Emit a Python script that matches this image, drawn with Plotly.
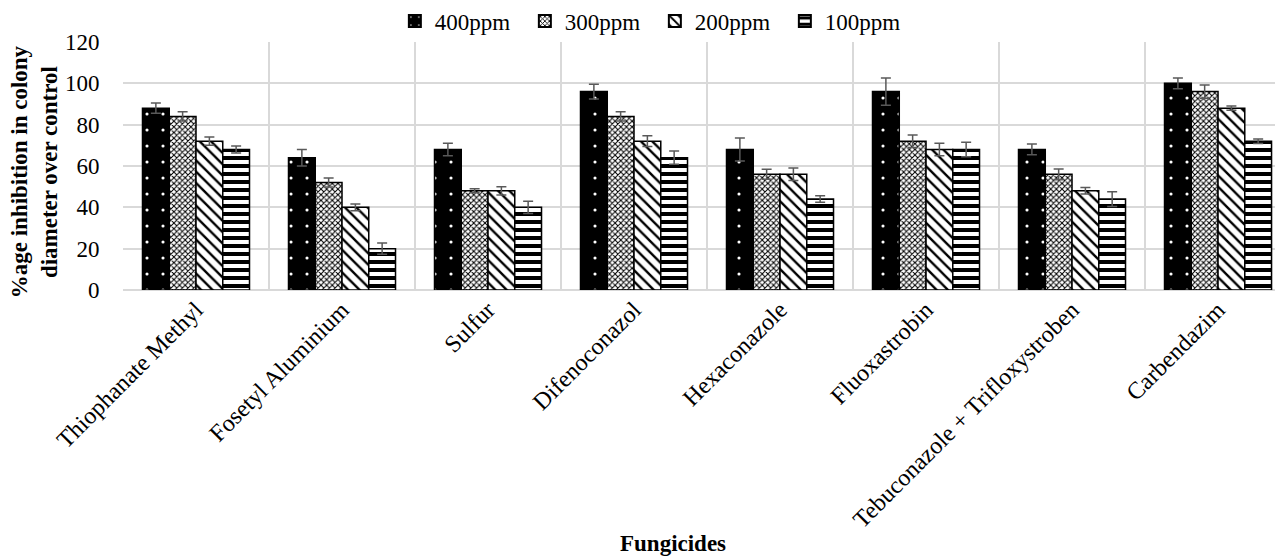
import plotly.graph_objects as go

categories = ["Thiophanate Methyl", "Fosetyl Aluminium", "Sulfur", "Difenoconazol",
              "Hexaconazole", "Fluoxastrobin", "Tebuconazole + Trifloxystroben", "Carbendazim"]
series_names = ["400ppm", "300ppm", "200ppm", "100ppm"]
v400 = [88, 64, 68, 96, 68, 96, 68, 100]
v300 = [84, 52, 48, 84, 56, 72, 56, 96]
v200 = [72, 40, 48, 72, 56, 68, 48, 88]
v100 = [68, 20, 40, 64, 44, 68, 44, 72]
e400 = [2.5, 4.0, 3.0, 3.6, 5.6, 6.6, 2.6, 2.6]
e300 = [2.2, 2.2, 1.0, 2.2, 2.4, 3.0, 2.6, 3.2]
e200 = [2.0, 1.6, 2.0, 2.6, 3.0, 3.0, 1.6, 1.0]
e100 = [1.7, 2.7, 3.0, 3.2, 1.6, 3.5, 3.6, 1.1]

values = [v400, v300, v200, v100]
errors = [e400, e300, e200, e100]
patterns = [
    dict(shape=".", bgcolor="black", fgcolor="white", size=16, solidity=0.03, fillmode="replace"),
    dict(shape="x", bgcolor="white", fgcolor="black", size=4, solidity=0.45, fillmode="replace"),
    dict(shape="\\", bgcolor="white", fgcolor="black", size=8, solidity=0.3, fillmode="replace"),
    dict(shape="-", bgcolor="white", fgcolor="black", size=8, solidity=0.5, fillmode="replace"),
]

FONT = "Liberation Serif"
fig = go.Figure()
for name, vals, errs, pat in zip(series_names, values, errors, patterns):
    fig.add_trace(go.Bar(
        x=categories, y=vals, name=name,
        marker=dict(color="black", pattern=pat, line=dict(color="black", width=1.5)),
        error_y=dict(type="data", array=errs, visible=True, color="#595959", thickness=1.5, width=5),
    ))

fig.update_layout(
    width=1275, height=548,
    margin=dict(l=115, r=0, t=34, b=266, pad=0, autoexpand=False),
    paper_bgcolor="white", plot_bgcolor="white",
    barmode="group", bargap=0.267, bargroupgap=0,
    font=dict(family=FONT, size=23, color="black"),
    legend=dict(orientation="h", x=0.4585, xanchor="center", y=1.084, yanchor="middle",
                font=dict(family=FONT, size=23, color="black"), bgcolor="rgba(0,0,0,0)",
                entrywidth=85, itemsizing="constant"),
    showlegend=True,
)
fig.update_xaxes(
    type="category", range=[-0.5, 7.445], tickson="boundaries", automargin=False,
    showgrid=True, gridcolor="#d9d9d9", gridwidth=1.5,
    showline=False, zeroline=False,
    tickangle=-45, ticks="outside", ticklen=10, tickcolor="rgba(0,0,0,0)",
    tickfont=dict(family=FONT, size=24, color="black"),
)
fig.update_yaxes(
    range=[0, 120], dtick=20, showgrid=True, gridcolor="#d9d9d9", gridwidth=1.5, automargin=False,
    zeroline=True, zerolinecolor="#d9d9d9", zerolinewidth=1.5, showline=False,
    ticks="outside", ticklen=18, tickcolor="rgba(0,0,0,0)",
    tickfont=dict(family=FONT, size=23, color="black"),
)
fig.add_annotation(
    text="<b>%age inhibition in colony<br>diameter over control</b>",
    xref="paper", yref="paper", x=-0.076, y=0.478, xanchor="center", yanchor="middle",
    textangle=-90, showarrow=False, font=dict(family=FONT, size=23, color="black"),
)
fig.add_annotation(
    text="<b>Fungicides</b>", xref="paper", yref="paper", x=0.474, y=-1.023,
    xanchor="center", yanchor="middle", showarrow=False,
    font=dict(family=FONT, size=23, color="black"),
)
fig.write_html("out.html")
